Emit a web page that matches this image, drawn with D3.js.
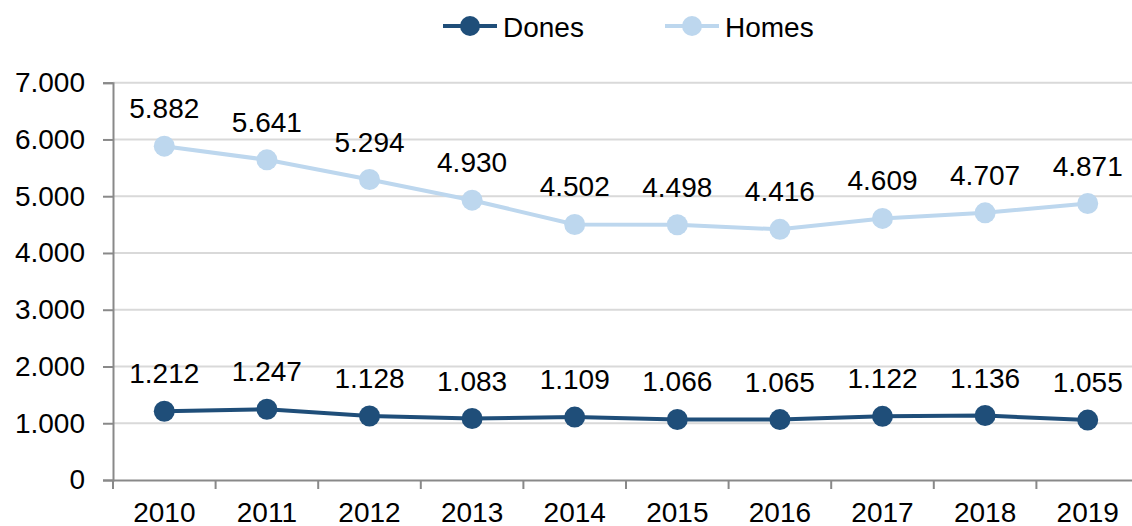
<!DOCTYPE html>
<html>
<head>
<meta charset="utf-8">
<script src="https://cdn.jsdelivr.net/npm/d3@7"></script>
<style>
  html, body { margin: 0; padding: 0; background: #fff; }
  svg { display: block; font-family: "Liberation Sans", Arial, sans-serif; }
</style>
</head>
<body>
<div id="chart"></div>
<script>
const years = ['2010', '2011', '2012', '2013', '2014', '2015', '2016', '2017', '2018', '2019'];
const dones = [1212, 1247, 1128, 1083, 1109, 1066, 1065, 1122, 1136, 1055];
const homes = [5882, 5641, 5294, 4930, 4502, 4498, 4416, 4609, 4707, 4871];
const yTicks = [0, 1000, 2000, 3000, 4000, 5000, 6000, 7000];
const seriesNames = ['Dones', 'Homes'];
const seriesColors = ['#1f4e79', '#bdd7ee'];

const width = 1132, height = 526;
const plotLeft = 113, plotRight = 1139, plotTop = 82.7, plotBottom = 480;

const fmt = v => d3.format(',')(v).replace(/,/g, '.');

const svg = d3.select('#chart').append('svg')
    .attr('width', width)
    .attr('height', height);

const x = d3.scaleBand().domain(years).range([plotLeft, plotRight]);
const y = d3.scaleLinear().domain([0, 7000]).range([plotBottom, plotTop]);

// gridlines
svg.append('g')
    .selectAll('line')
    .data(yTicks.filter(t => t > 0))
    .enter().append('line')
    .attr('x1', plotLeft).attr('x2', plotRight)
    .attr('y1', d => y(d)).attr('y2', d => y(d))
    .attr('stroke', '#d9d9d9')
    .attr('stroke-width', 2);

// y axis
const yAxis = svg.append('g')
    .attr('transform', `translate(${plotLeft},0)`)
    .call(d3.axisLeft(y).tickValues(yTicks).tickFormat(fmt).tickSize(10).tickPadding(18));
yAxis.select('.domain').attr('stroke', '#898989').attr('stroke-width', 2);
yAxis.selectAll('.tick line').attr('stroke', '#898989').attr('stroke-width', 2);
yAxis.selectAll('.tick text')
    .attr('font-size', 28)
    .attr('font-family', '"Liberation Sans", Arial, sans-serif')
    .attr('fill', '#000');

// x axis
const xAxis = svg.append('g')
    .attr('transform', `translate(0,${plotBottom})`)
    .call(d3.axisBottom(x).tickSize(0).tickPadding(22));
xAxis.select('.domain').attr('stroke', '#898989').attr('stroke-width', 2);
xAxis.selectAll('.tick text')
    .attr('font-size', 28)
    .attr('font-family', '"Liberation Sans", Arial, sans-serif')
    .attr('fill', '#000');
// tick marks between categories
xAxis.append('g')
    .selectAll('line')
    .data(years)
    .enter().append('line')
    .attr('x1', d => x(d)).attr('x2', d => x(d))
    .attr('y1', 0).attr('y2', 9)
    .attr('stroke', '#898989')
    .attr('stroke-width', 2);

const cx = d => x(d) + x.bandwidth() / 2;

[dones, homes].forEach((vals, i) => {
    const data = years.map((yr, j) => ({ yr, v: vals[j] }));
    const line = d3.line().x(d => cx(d.yr)).y(d => y(d.v));
    svg.append('path')
        .datum(data)
        .attr('d', line)
        .attr('fill', 'none')
        .attr('stroke', seriesColors[i])
        .attr('stroke-width', 4);
    svg.append('g')
        .selectAll('circle')
        .data(data)
        .enter().append('circle')
        .attr('cx', d => cx(d.yr))
        .attr('cy', d => y(d.v))
        .attr('r', 10.5)
        .attr('fill', seriesColors[i]);
    svg.append('g')
        .selectAll('text')
        .data(data)
        .enter().append('text')
        .attr('x', d => cx(d.yr))
        .attr('y', d => y(d.v) - 28)
        .attr('text-anchor', 'middle')
        .attr('font-size', 28)
        .attr('fill', '#000')
        .text(d => fmt(d.v));
});

// legend
const legendX = [443, 665];
const legend = svg.append('g')
    .selectAll('g')
    .data(seriesNames)
    .enter().append('g')
    .attr('transform', (d, i) => `translate(${legendX[i]},26)`);
legend.append('line')
    .attr('x1', 0).attr('x2', 54)
    .attr('stroke', (d, i) => seriesColors[i])
    .attr('stroke-width', 4);
legend.append('circle')
    .attr('cx', 27)
    .attr('r', 10)
    .attr('fill', (d, i) => seriesColors[i]);
legend.append('text')
    .attr('x', 60)
    .attr('y', 11)
    .attr('font-size', 28)
    .attr('fill', '#000')
    .text(d => d);
</script>
</body>
</html>
